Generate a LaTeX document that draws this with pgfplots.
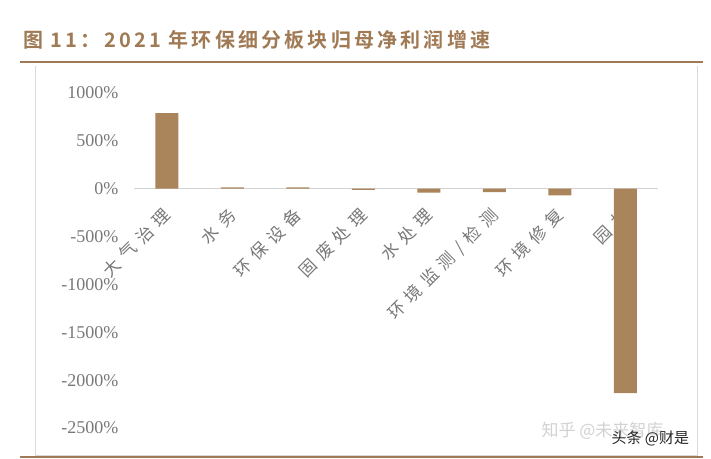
\documentclass[border=0pt]{standalone}
\usepackage{pgfplots}
\pgfplotsset{compat=1.18}
\usepackage{fontspec}
\setmainfont{Liberation Serif}
\newfontfamily\cjk{Noto Sans CJK SC}[LetterSpace=38]
\newfontfamily\cjkb{Noto Sans CJK SC Bold}[LetterSpace=16]
\newfontfamily\cjkw{Noto Sans CJK SC}
\definecolor{titlebrown}{RGB}{160,122,84}
\definecolor{barbrown}{RGB}{170,132,90}
\definecolor{ticktext}{RGB}{120,120,120}
\begin{document}
\begin{tikzpicture}[x=1pt,y=1pt]
\path[use as bounding box] (0,0) rectangle (711,458);
% title
\node[anchor=west, text=titlebrown, font=\cjkb\fontsize{20}{20}\selectfont, inner sep=0pt] at (23,418) {图 11：2021 年环保细分板块归母净利润增速};
\draw[titlebrown, line width=2.2pt] (20,396) -- (703,396);
\draw[gray!30, line width=1pt] (35,392) -- (35,3) -- (697,3) -- (697,392);
\draw[titlebrown, line width=2.2pt] (20,1) -- (703,1);
\begin{axis}[
  at={(134pt,30pt)}, anchor=south west,
  width=524pt, height=335pt, scale only axis,
  xmin=-0.5, xmax=7.5, ymin=-2500, ymax=1000,
  axis x line=middle, axis y line=left,
  x axis line style={-, draw=gray!35, line width=1.3pt},
  y axis line style={draw=none},
  tick style={draw=none},
  major tick length=0pt,
  ytick={-2500,-2000,-1500,-1000,-500,0,500,1000},
  yticklabels={-2500\%,-2000\%,-1500\%,-1000\%,-500\%,0\%,500\%,1000\%},
  yticklabel style={font=\fontsize{18}{18}\selectfont, text=ticktext, xshift=-12pt},
  xtick={0,1,2,3,4,5,6,7},
  xticklabels={大气治理,水务,环保设备,固废处理,水处理,环境监测/检测,环境修复,园林},
  xticklabel style={font=\cjk\fontsize{17}{17}\selectfont, text=ticktext, rotate=45, anchor=north east, yshift=-5.5pt, xshift=-12.5pt},
  ybar, bar width=23pt,
  clip=false,
]
\addplot[fill=barbrown, draw=none] coordinates {(0,790) (1,15) (2,15) (3,-12) (4,-40) (5,-35) (6,-70) (7,-2135)};
\end{axis}
\node[anchor=west, text=gray!35, font=\cjkw\fontsize{17}{17}\selectfont] at (538,27) {知乎 @未来智库};
\node[anchor=west, text=black!85, font=\cjkw\fontsize{15}{15}\selectfont] at (608,20) {头条 @财是};
\end{tikzpicture}
\end{document}
